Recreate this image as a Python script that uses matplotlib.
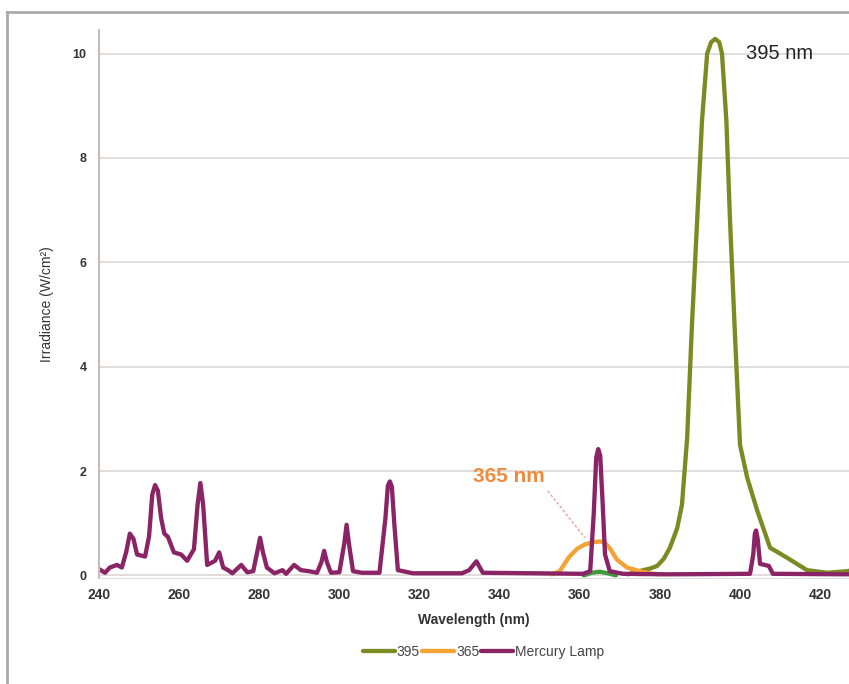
import matplotlib
matplotlib.use("Agg")
import matplotlib.pyplot as plt
from matplotlib.lines import Line2D

plt.rcParams["font.family"] = ["Liberation Sans", "DejaVu Sans"]

# Mercury lamp spectrum (nm, W/cm2)
hg_nm = [240.0, 241.5, 242.7, 244.5, 245.7, 246.8, 247.7, 248.6, 249.5, 251.5,
         252.5, 253.3, 254.0, 254.7, 255.5, 256.3, 257.2, 258.7, 260.5, 262.0,
         263.7, 264.6, 265.3, 266.0, 267.0, 269.0, 270.0, 271.0, 272.2, 273.3,
         275.5, 277.0, 278.5, 279.5, 280.2, 280.9, 281.9, 283.8, 285.8, 286.7,
         288.7, 290.4, 292.4, 294.4, 295.5, 296.2, 296.9, 297.9, 300.0, 301.2,
         301.8, 302.4, 303.4, 305.6, 310.0, 311.5, 312.1, 312.6, 313.1, 313.7,
         314.6, 318.4, 330.6, 332.4, 334.2, 335.8, 360.8, 362.6, 363.5, 364.1,
         364.6, 365.1, 365.7, 366.3, 367.5, 370.8, 382.0, 402.5, 403.3, 403.7,
         404.0, 404.4, 405.0, 406.2, 407.2, 408.2, 428.0]
hg_val = [0.12, 0.05, 0.15, 0.20, 0.15, 0.45, 0.80, 0.70, 0.40, 0.36,
          0.75, 1.55, 1.73, 1.62, 1.10, 0.80, 0.74, 0.44, 0.40, 0.28,
          0.50, 1.35, 1.77, 1.35, 0.20, 0.28, 0.44, 0.15, 0.10, 0.04,
          0.20, 0.06, 0.08, 0.45, 0.72, 0.45, 0.15, 0.04, 0.10, 0.03,
          0.20, 0.10, 0.08, 0.05, 0.25, 0.47, 0.25, 0.05, 0.06, 0.60,
          0.97, 0.60, 0.08, 0.05, 0.05, 1.10, 1.72, 1.80, 1.70, 1.00,
          0.10, 0.04, 0.04, 0.10, 0.27, 0.05, 0.03, 0.08, 1.20, 2.25,
          2.42, 2.30, 1.40, 0.40, 0.08, 0.03, 0.02, 0.03, 0.40, 0.80,
          0.86, 0.70, 0.22, 0.20, 0.18, 0.03, 0.02]

# 365 nm LED
led365_nm = [353.0, 355.0, 357.3, 359.5, 361.5, 363.8, 365.0, 366.2, 367.5, 369.3,
             371.8, 375.0, 377.5, 380.0]
led365_val = [0.02, 0.08, 0.35, 0.52, 0.60, 0.64, 0.65, 0.63, 0.52, 0.30,
              0.15, 0.08, 0.04, 0.02]

# 395 nm LED
led395_nm = [372.0, 374.8, 377.5, 379.3, 381.0, 382.5, 384.3, 385.5, 386.8, 388.0,
             389.3, 390.5, 391.8, 392.8, 393.8, 394.8, 395.5, 396.6, 397.5, 398.8,
             400.0, 401.8, 404.3, 407.5, 411.7, 416.7, 421.7, 426.7, 428.0]
led395_val = [0.02, 0.08, 0.13, 0.18, 0.32, 0.53, 0.90, 1.35, 2.63, 4.80,
              6.80, 8.70, 10.00, 10.22, 10.28, 10.22, 10.00, 8.70, 6.80, 4.50,
              2.50, 1.87, 1.24, 0.53, 0.34, 0.10, 0.05, 0.08, 0.10]

# small green bump under the 365 nm line
bump_nm = [361.0, 363.0, 365.0, 367.0, 369.0]
bump_val = [0.0, 0.05, 0.07, 0.04, 0.0]

fig = plt.figure(figsize=(8.49, 6.84), dpi=100)
ax = fig.add_axes([0.1166, 0.155, 0.8834, 0.801])

style = dict(lw=3.1, solid_joinstyle="round", solid_capstyle="round")
ax.plot(bump_nm, bump_val, color="#3f9a3a", **style)
ax.plot(led395_nm, led395_val, color="#7d8a22", label="395", **style)
ax.plot(led365_nm, led365_val, color="#f4a234", label="365", **style)
ax.plot(hg_nm, hg_val, color="#8a2466", label="Mercury Lamp", **style)

ax.set_xlim(240, 427.2)
ax.set_ylim(-0.05, 10.45)
ax.set_xticks(range(240, 421, 20))
ax.set_yticks(range(0, 11, 2))
ax.yaxis.grid(True, color="#ddd5d5", lw=1.2)
ax.set_axisbelow(True)
ax.tick_params(length=0, colors="#333333")
ax.tick_params(axis="y", pad=9, labelsize=9)
ax.tick_params(axis="x", pad=7, labelsize=10)
for lab in ax.get_xticklabels() + ax.get_yticklabels():
    lab.set_fontweight("bold")
for side in ("top", "right"):
    ax.spines[side].set_visible(False)
ax.spines["left"].set_color("#c9bcbc")
ax.spines["left"].set_linewidth(1.5)
ax.spines["bottom"].set_color("#dddddd")

ax.set_xlabel("Wavelength (nm)", fontsize=10, fontweight="bold", color="#333333", labelpad=8)
ax.set_ylabel("Irradiance (W/cm²)", fontsize=10, color="#333333", labelpad=13)

ax.text(401.5, 10.0, "395 nm", fontsize=14.5, color="#222222", va="center", ha="left")
ax.text(333.3, 1.9, "365 nm", fontsize=15, fontweight="bold", color="#f08a3c", va="center", ha="left")
ax.plot([352.0, 361.3], [1.62, 0.72], color="#e8a0a0", lw=1.0, ls=(0, (2, 1.5)))

ax.legend(loc="upper center", bbox_to_anchor=(0.513, -0.1), ncol=3, frameon=False,
          fontsize=10, handlelength=2.3, handletextpad=0.15, columnspacing=0.15,
          labelcolor="#444444")

# grey frame of the original figure (top and left edges)
fig.add_artist(Line2D([7 / 849, 1.0], [1 - 12 / 684, 1 - 12 / 684], color="#aaaaaa", lw=2,
                      transform=fig.transFigure))
fig.add_artist(Line2D([7 / 849, 7 / 849], [0.0, 1 - 12 / 684], color="#aaaaaa", lw=2,
                      transform=fig.transFigure))

fig.savefig("out.png", dpi=100)
